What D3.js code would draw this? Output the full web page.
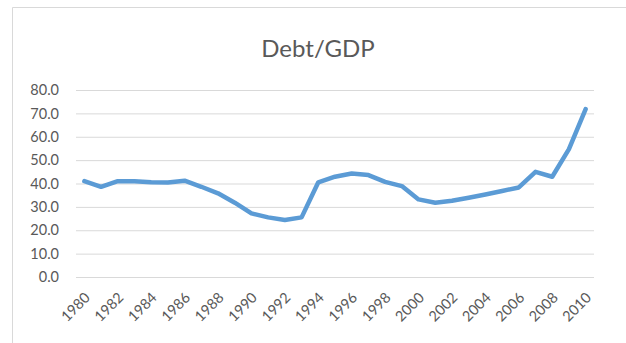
<!DOCTYPE html>
<html><head><meta charset="utf-8">
<script src="https://cdn.jsdelivr.net/npm/d3@7"></script>
<style>
html,body{margin:0;padding:0;background:#fff;}
svg{display:block;font-family:Lato,"Open Sans",sans-serif;}
</style></head>
<body>
<svg id="chart" width="626" height="343"></svg>
<script>
const years = [1980,1981,1982,1983,1984,1985,1986,1987,1988,1989,1990,1991,1992,1993,1994,1995,1996,1997,1998,1999,2000,2001,2002,2003,2004,2005,2006,2007,2008,2009,2010];
const debtGdp = [41.0,38.6,41.0,41.0,40.5,40.4,41.2,38.6,35.8,31.8,27.2,25.5,24.4,25.5,40.5,42.9,44.3,43.6,40.7,38.9,33.2,31.8,32.6,33.9,35.3,36.8,38.3,45.0,42.9,54.7,71.8];
const yTicks = [0,10,20,30,40,50,60,70,80];
const xTickYears = years.filter(y => (y - 1980) % 2 === 0);
const title = "Debt/GDP";

const svg = d3.select("#chart");
const W = 626, H = 343;
const m = {left:76, right:32, top:90, bottom:66};
const textColor = "#595959";

// chart area border (left & top visible)
svg.append("path").attr("d", `M12.5,${H} V7.5 H${W}`).attr("fill","none").attr("stroke","#d9d9d9").attr("stroke-width",1);

const x = d3.scaleBand().domain(years).range([m.left, W - m.right]);
const y = d3.scaleLinear().domain([0,80]).range([H - m.bottom, m.top]);

// gridlines
const yAxis = d3.axisLeft(y).tickValues(yTicks).tickFormat(d3.format(".1f")).tickSize(-(W - m.right - m.left)).tickPadding(17);
const gy = svg.append("g").attr("transform", `translate(${m.left},0)`).call(yAxis);
gy.select(".domain").remove();
gy.selectAll(".tick line").attr("stroke","#d9d9d9").attr("stroke-width",1);
gy.selectAll(".tick text").attr("fill",textColor).attr("font-size","14.5px").attr("font-family","Lato,sans-serif");

// x axis labels
const xAxis = d3.axisBottom(x).tickValues(xTickYears).tickSize(0).tickPadding(0);
const gx = svg.append("g").attr("transform", `translate(0,${H - m.bottom})`).call(xAxis);
gx.select(".domain").remove();
gx.selectAll(".tick text")
  .attr("fill",textColor).attr("font-size","14.5px").attr("font-family","Lato,sans-serif")
  .attr("text-anchor","end")
  .attr("dy",null).attr("y",0)
  .attr("transform","translate(4,19) rotate(-45)")
  .attr("dominant-baseline","middle");

// line
const line = d3.line().x((d,i) => x(years[i]) + x.bandwidth()/2).y(d => y(d));
svg.append("path").datum(debtGdp).attr("d", line)
  .attr("fill","none").attr("stroke","#5b9bd5").attr("stroke-width",4.5)
  .attr("stroke-linejoin","round").attr("stroke-linecap","round");

// title
svg.append("text").attr("x", 318).attr("y", 57).attr("text-anchor","middle")
  .attr("fill",textColor).attr("font-size","24px").attr("font-family","Lato,sans-serif").text(title);
</script>
</body></html>
